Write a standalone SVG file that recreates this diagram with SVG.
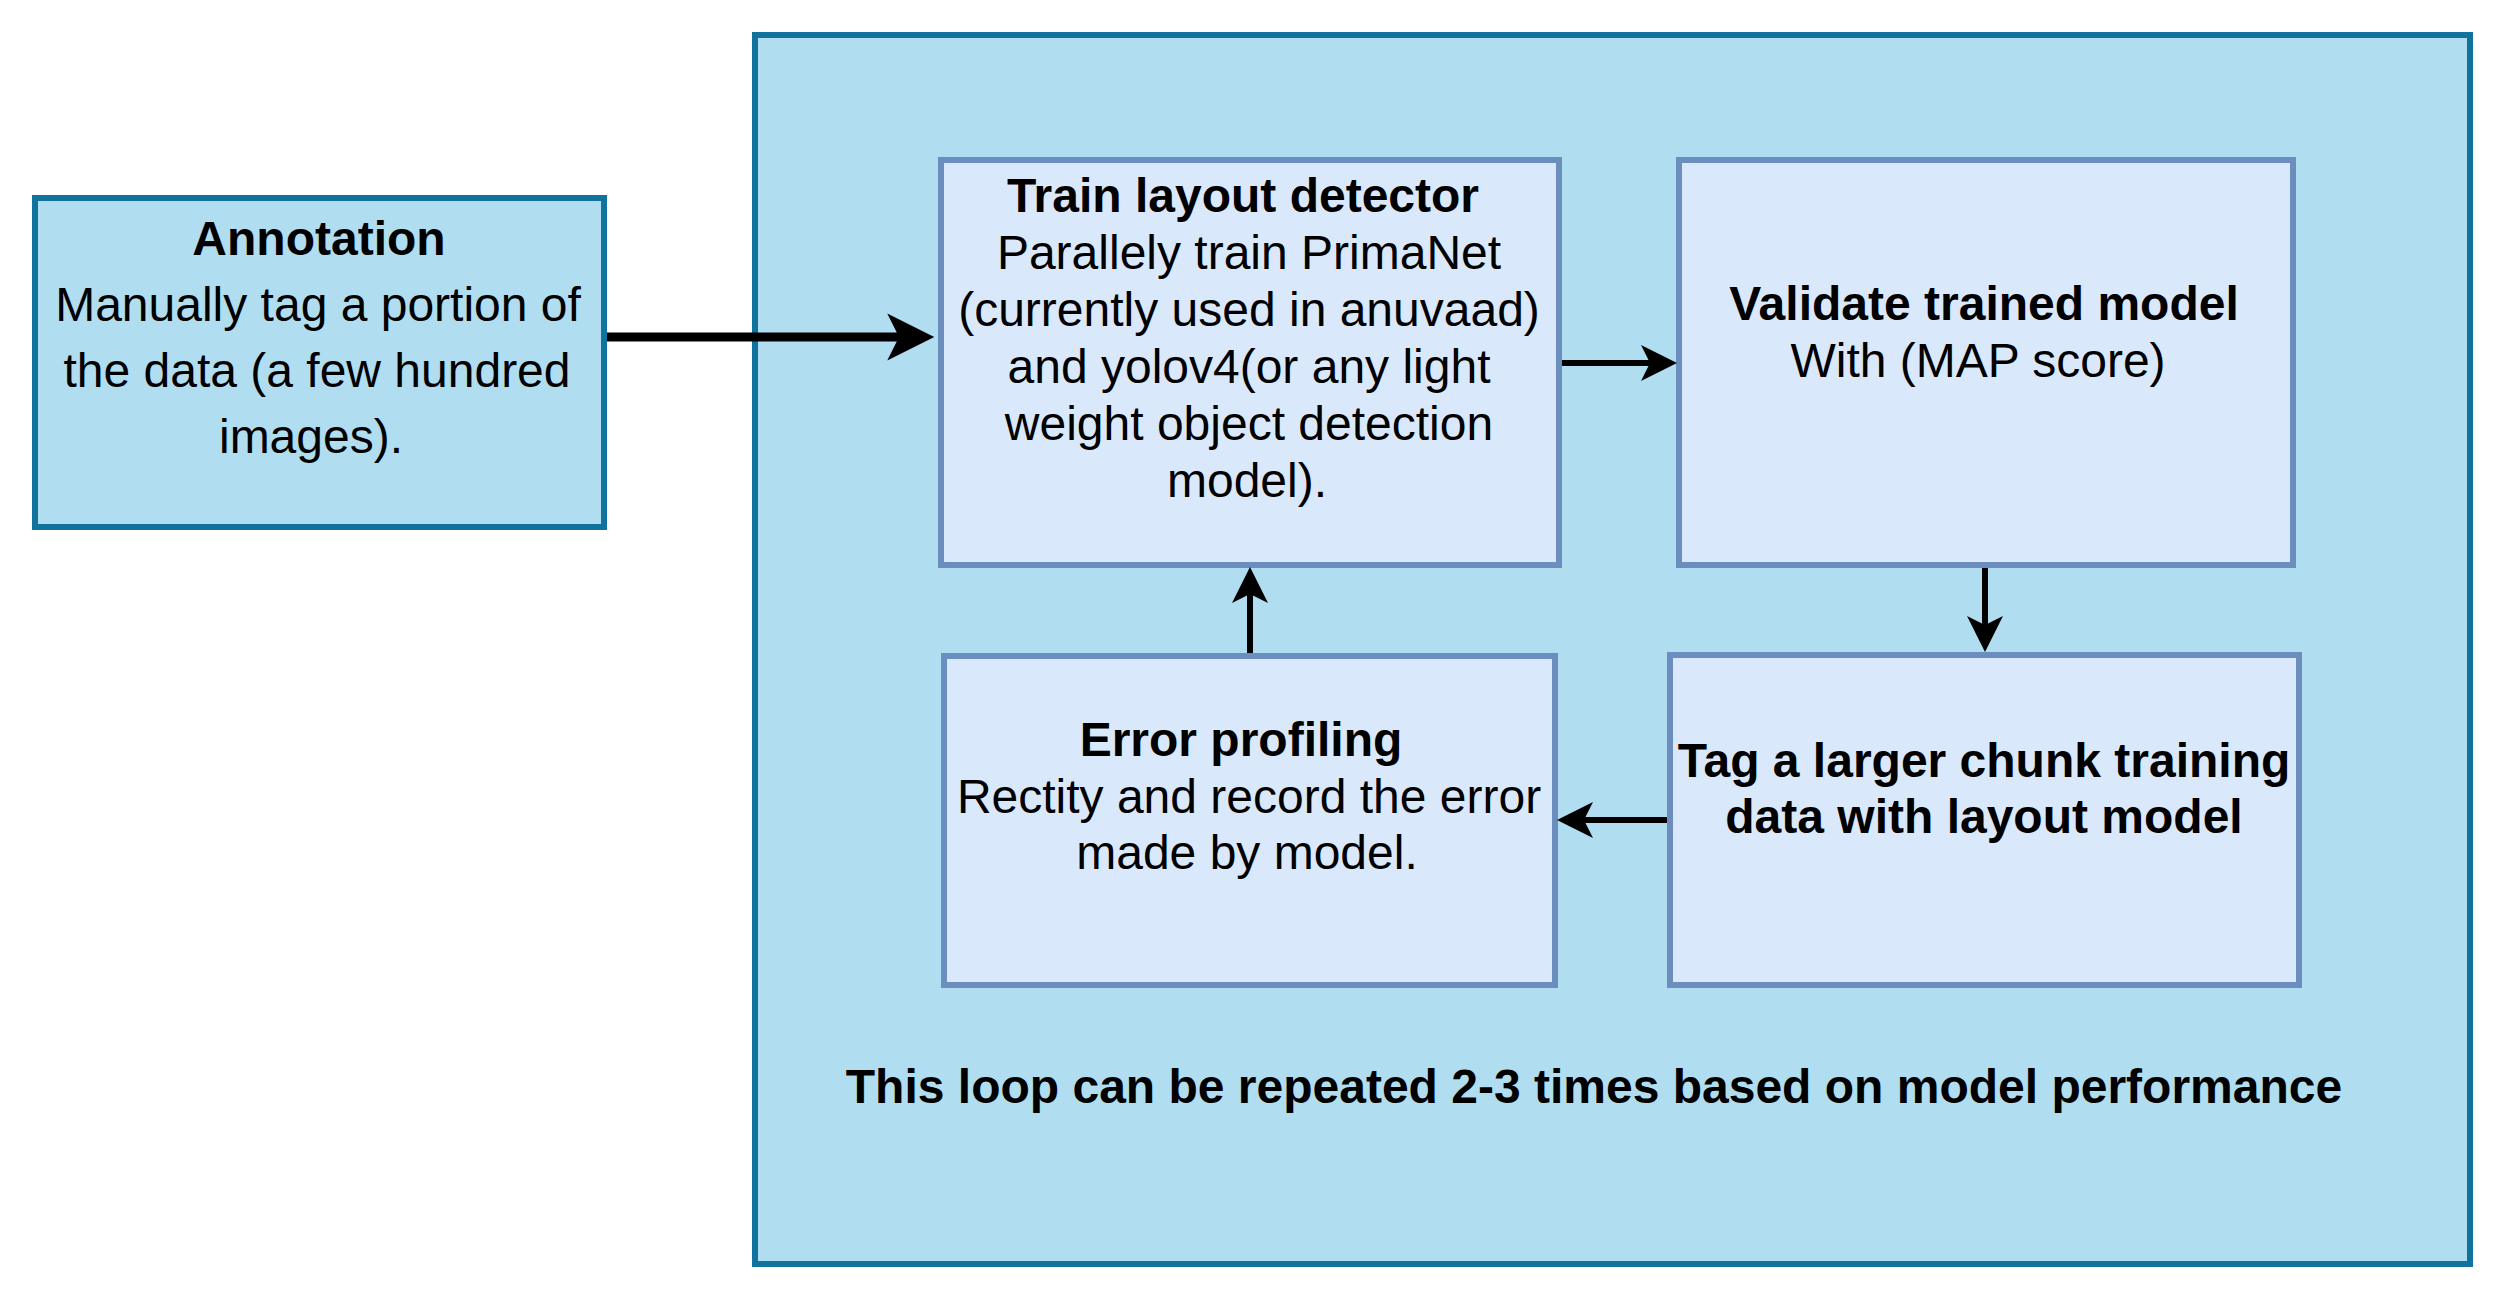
<svg xmlns="http://www.w3.org/2000/svg" width="2502" height="1296" viewBox="0 0 2502 1296">
<style>
.outer{fill:#b1ddf0;stroke:#10739e;stroke-width:6}
.inner{fill:#dae8fc;stroke:#6c8ebf;stroke-width:6}
text{font-family:"Liberation Sans",Arial,sans-serif;font-size:48px;fill:#000;text-anchor:middle}
.b{font-weight:bold}
.edge{fill:none;stroke:#000;stroke-width:6}
</style>
<defs>
<marker id="arr" markerUnits="userSpaceOnUse" markerWidth="36" markerHeight="36" refX="9" refY="18" orient="auto" overflow="visible"><path d="M0,0 L36,18 L0,36 L9,18 Z" fill="#000"/></marker>
<marker id="arrBig" markerUnits="userSpaceOnUse" markerWidth="47" markerHeight="47" refX="11.75" refY="23.5" orient="auto" overflow="visible"><path d="M0,0 L47,23.5 L0,47 L11.75,23.5 Z" fill="#000"/></marker>
</defs>
<rect width="2502" height="1296" fill="#fff"/>
<g id="loop">
<rect class="outer" x="755" y="35" width="1715" height="1229"/>
<text class="b" x="1594" y="1103">This loop can be repeated 2-3 times based on model performance</text>
</g>
<g id="annotation">
<rect class="outer" x="35" y="198" width="569" height="329"/>
<text class="b" x="319" y="255">Annotation</text>
<text x="318" y="321">Manually tag a portion of</text>
<text x="317" y="387">the data (a few hundred</text>
<text x="311" y="453">images).</text>
</g>
<g id="train">
<rect class="inner" x="941" y="160" width="618" height="405"/>
<text class="b" x="1243" y="212">Train layout detector</text>
<text x="1249" y="269">Parallely train PrimaNet</text>
<text x="1249" y="326">(currently used in anuvaad)</text>
<text x="1249" y="383">and yolov4(or any light</text>
<text x="1249" y="440">weight object detection</text>
<text x="1247" y="497">model).</text>
</g>
<g id="validate">
<rect class="inner" x="1679" y="160" width="614" height="405"/>
<text class="b" x="1984" y="320">Validate trained model</text>
<text x="1978" y="377">With (MAP score)</text>
</g>
<g id="tag">
<rect class="inner" x="1670" y="655" width="629" height="330"/>
<text class="b" x="1984" y="777">Tag a larger chunk training</text>
<text class="b" x="1984" y="833">data with layout model</text>
</g>
<g id="error">
<rect class="inner" x="944" y="656" width="611" height="329"/>
<text class="b" x="1241" y="756">Error profiling</text>
<text x="1249" y="813">Rectity and record the error</text>
<text x="1247" y="869">made by model.</text>
</g>
<g id="connectors">
<path class="edge" style="stroke-width:9" d="M607,337 H899" marker-end="url(#arrBig)"/>
<path class="edge" d="M1562,363 H1650" marker-end="url(#arr)"/>
<path class="edge" d="M1985,568 V625" marker-end="url(#arr)"/>
<path class="edge" d="M1667,820 H1584" marker-end="url(#arr)"/>
<path class="edge" d="M1250,653 V594" marker-end="url(#arr)"/>
</g>
</svg>
